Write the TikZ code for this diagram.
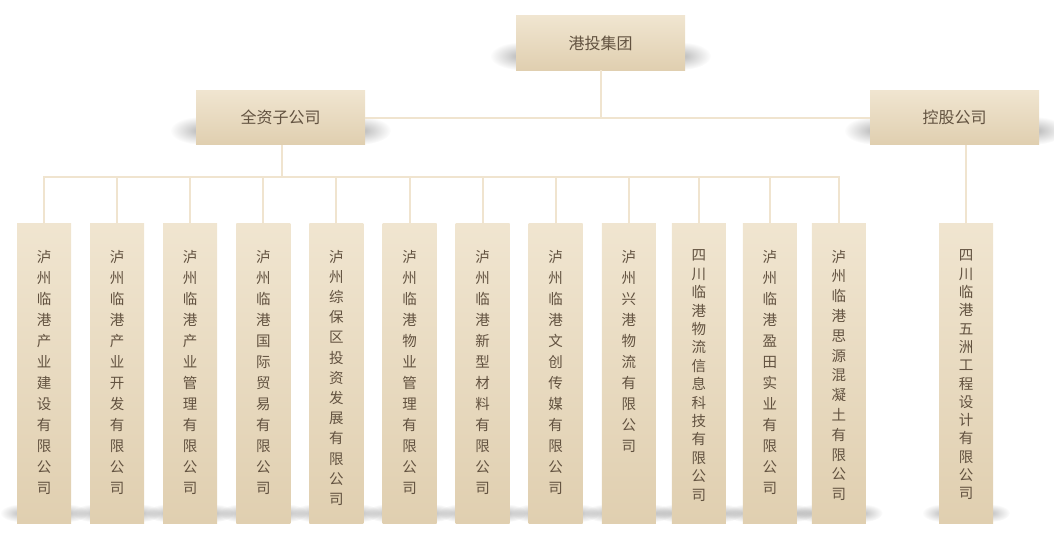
\documentclass[tikz,border=0pt]{standalone}
\usepackage{fontspec}
\setmainfont{Noto Sans CJK SC}
\usetikzlibrary{positioning,fadings,backgrounds}
\definecolor{boxtop}{HTML}{F0E5D0}
\definecolor{boxbot}{HTML}{E0CFB0}
\definecolor{lnk}{HTML}{F0E4CF}
\definecolor{txt}{HTML}{625240}
\tikzfading[name=blob, inner color=transparent!0, outer color=transparent!100]
\tikzstyle{head} = [rectangle, top color=boxtop, bottom color=boxbot, minimum width=169pt, minimum height=54pt, inner sep=0pt, outer sep=0pt, text=txt, font=\fontsize{16}{16}\selectfont]
\tikzstyle{col} = [rectangle, top color=boxtop, bottom color=boxbot, minimum width=54pt, minimum height=300pt, inner sep=0pt, outer sep=0pt]
\tikzset{vtext/.style={text=txt, inner sep=0pt, align=center, font=\fontsize{14.5}{#1}\selectfont}, vtext/.default=21}

\begin{document}
\begin{tikzpicture}[x=1pt,y=-1pt,node distance=19.1pt,color=lnk,line width=2pt]
	\useasboundingbox (0,0) rectangle (1054,543);
	\node (top) [head] at (600.5,43) {港投集团};
	\node (wz) [head] at (280.5,117.5) {全资子公司};
	\node (kg) [head] at (954.5,117.5) {控股公司};
	
	\node (c1) [col] at (44,373) {};
	\node (c2) [col, right=of c1] {};
	\node (c3) [col, right=of c2] {};
	\node (c4) [col, right=of c3] {};
	\node (c5) [col, right=of c4] {};
	\node (c6) [col, right=of c5] {};
	\node (c7) [col, right=of c6] {};
	\node (c8) [col, right=of c7] {};
	\node (c9) [col, right=of c8] {};
	\node (c10) [col, right=16pt of c9] {};
	\node (c11) [col, right=17pt of c10] {};
	\node (c12) [col, right=15pt of c11] {};
	\node (c13) [col] at (966,373) {};
	
	% company names
	\node (t1) [vtext, below=26pt of c1.north] {泸\\州\\临\\港\\产\\业\\建\\设\\有\\限\\公\\司};
	\node (t2) [vtext, below=26pt of c2.north] {泸\\州\\临\\港\\产\\业\\开\\发\\有\\限\\公\\司};
	\node (t3) [vtext, below=26pt of c3.north] {泸\\州\\临\\港\\产\\业\\管\\理\\有\\限\\公\\司};
	\node (t4) [vtext, below=26pt of c4.north] {泸\\州\\临\\港\\国\\际\\贸\\易\\有\\限\\公\\司};
	\node (t5) [vtext=20.2, below=26pt of c5.north] {泸\\州\\综\\保\\区\\投\\资\\发\\展\\有\\限\\公\\司};
	\node (t6) [vtext, below=26pt of c6.north] {泸\\州\\临\\港\\物\\业\\管\\理\\有\\限\\公\\司};
	\node (t7) [vtext, below=26pt of c7.north] {泸\\州\\临\\港\\新\\型\\材\\料\\有\\限\\公\\司};
	\node (t8) [vtext, below=26pt of c8.north] {泸\\州\\临\\港\\文\\创\\传\\媒\\有\\限\\公\\司};
	\node (t9) [vtext, below=26pt of c9.north] {泸\\州\\兴\\港\\物\\流\\有\\限\\公\\司};
	\node (t10) [vtext=18.4, below=26pt of c10.north] {四\\川\\临\\港\\物\\流\\信\\息\\科\\技\\有\\限\\公\\司};
	\node (t11) [vtext, below=26pt of c11.north] {泸\\州\\临\\港\\盈\\田\\实\\业\\有\\限\\公\\司};
	\node (t12) [vtext=19.8, below=26pt of c12.north] {泸\\州\\临\\港\\思\\源\\混\\凝\\土\\有\\限\\公\\司};
	\node (t13) [vtext=18.3, below=26pt of c13.north] {四\\川\\临\\港\\五\\洲\\工\\程\\设\\计\\有\\限\\公\\司};
	
	\coordinate [below=32pt of wz.south] (bus);
	\draw (top) -- (top |- wz);
	\draw (wz) -- (kg);
	\draw ([xshift=1.5pt]wz.south) -- ([xshift=1.5pt]bus);
	\draw (c1.north) |- ([xshift=1.5pt]bus) -| (c12.north);
	\foreach \i in {2,...,11}
		\draw (c\i.north) -- (c\i |- bus);
	\draw (c13.north) -- (c13 |- kg.south);
	
	% shadows
	\begin{scope}[on background layer]
		\foreach \n in {top,wz,kg} {
			\fill[black, opacity=.28, path fading=blob] ([shift={(4pt,14pt)}]\n.south west) ellipse (30pt and 14pt);
			\fill[black, opacity=.28, path fading=blob] ([shift={(-4pt,14pt)}]\n.south east) ellipse (30pt and 14pt);
		}
		\foreach \n in {c1,c2,c3,c4,c5,c6,c7,c8,c9,c10,c11,c12,c13} {
			\fill[black, opacity=.25, path fading=blob] ([shift={(3pt,10pt)}]\n.south west) ellipse (20pt and 9pt);
			\fill[black, opacity=.25, path fading=blob] ([shift={(-3pt,10pt)}]\n.south east) ellipse (20pt and 9pt);
		}
	\end{scope}
\end{tikzpicture}
\end{document}
